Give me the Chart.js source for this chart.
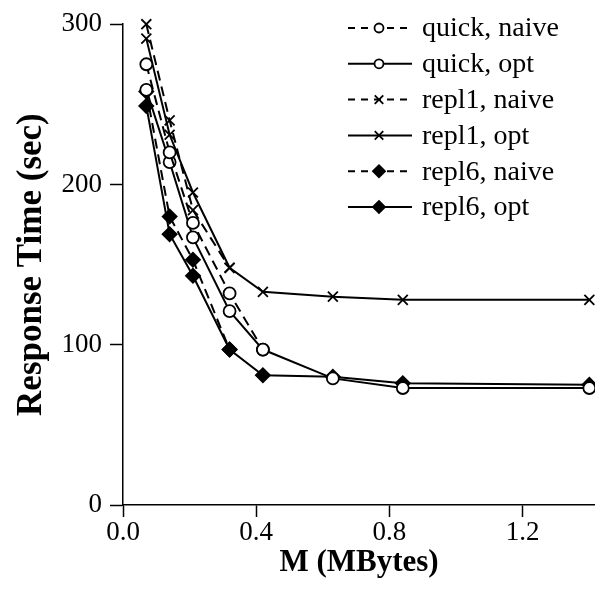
<!DOCTYPE html>
<html>
<head>
<meta charset="utf-8">
<script src="https://cdn.jsdelivr.net/npm/chart.js@4.4.0/dist/chart.umd.min.js"></script>
<style>
  html, body { margin: 0; padding: 0; background: #fff; }
</style>
</head>
<body>
<canvas id="chart" width="595" height="590"></canvas>
<script>
// memory sizes (MBytes) and response times (sec)
const memMB = [0.07, 0.14, 0.21, 0.32, 0.42, 0.63, 0.84, 1.4];
const quickNaive = [275, 220, 176, 132, 97];
const quickOpt = [259, 214, 167, 121, 97, 79, 73, 73];
const repl1Naive = [300, 240, 184, 148];
const repl1Opt = [291, 231, 195, 148, 133, 130, 128, 128];
const repl6Naive = [258, 180, 153, 97];
const repl6Opt = [249, 169, 143, 97, 81, 80, 76, 75];
const seriesNames = ['quick, naive', 'quick, opt', 'repl1, naive', 'repl1, opt', 'repl6, naive', 'repl6, opt'];
const xTicks = [0, 0.4, 0.8, 1.2];
const yTicks = [0, 100, 200, 300];

const FONT = 'Liberation Serif';
Chart.defaults.font.family = FONT;
Chart.defaults.color = '#000';

function points(vals) {
    return vals.map((v, i) => ({ x: memMB[i], y: v }));
}

function makeSet(label, vals, dashed, style) {
    const filled = style === 'rectRot';
    return {
        label: label,
        data: points(vals),
        borderColor: '#000',
        borderWidth: 2,
        borderDash: dashed ? [10, 6] : [],
        pointStyle: style,
        pointRadius: style === 'circle' ? 6 : 7,
        pointBorderWidth: 1.8,
        pointBorderColor: '#000',
        pointBackgroundColor: filled ? '#000' : '#fff',
        tension: 0,
        fill: false,
        clip: false
    };
}

const datasets = [
    makeSet(seriesNames[0], quickNaive, true, 'circle'),
    makeSet(seriesNames[1], quickOpt, false, 'circle'),
    makeSet(seriesNames[2], repl1Naive, true, 'crossRot'),
    makeSet(seriesNames[3], repl1Opt, false, 'crossRot'),
    makeSet(seriesNames[4], repl6Naive, true, 'rectRot'),
    makeSet(seriesNames[5], repl6Opt, false, 'rectRot')
];

// legend drawn as line + marker samples, like the original figure
const lineLegend = {
    id: 'lineLegend',
    afterDatasetsDraw(chart) {
        const ctx = chart.ctx;
        const x0 = 348, x1 = 412, xm = 379, xt = 422;
        ctx.save();
        chart.data.datasets.forEach((ds, i) => {
            const y = 28 + i * 35.8;
            ctx.strokeStyle = '#000';
            ctx.lineWidth = 2;
            ctx.setLineDash(ds.borderDash.length ? [7, 6] : []);
            ctx.beginPath();
            ctx.moveTo(x0, y);
            ctx.lineTo(x1, y);
            ctx.stroke();
            ctx.setLineDash([]);
            ctx.fillStyle = ds.pointBackgroundColor;
            ctx.strokeStyle = '#000';
            ctx.lineWidth = 1.8;
            Chart.helpers.drawPoint(ctx, {
                pointStyle: ds.pointStyle,
                radius: ds.pointStyle === 'circle' ? 4.5 : 6,
                rotation: 0,
                borderWidth: 1.8
            }, xm, y);
            ctx.fillStyle = '#000';
            ctx.font = '28px "' + FONT + '"';
            ctx.textBaseline = 'middle';
            ctx.textAlign = 'left';
            ctx.fillText(ds.label, xt, y + 1);
        });
        ctx.restore();
    }
};

new Chart(document.getElementById('chart').getContext('2d'), {
    type: 'line',
    data: { datasets: datasets },
    plugins: [lineLegend],
    options: {
        responsive: false,
        animation: false,
        layout: { autoPadding: false, padding: { top: 22, right: 0, left: 0, bottom: 0 } },
        plugins: {
            legend: { display: false },
            tooltip: { enabled: false }
        },
        scales: {
            x: {
                type: 'linear',
                min: 0,
                max: 1.417,
                afterBuildTicks: s => { s.ticks = xTicks.map(v => ({ value: v })); },
                afterFit: s => { s.height = 85; s.paddingRight = 0; s.paddingLeft = 0; },
                grid: { drawOnChartArea: false, color: '#000', tickLength: 12, tickWidth: 1.5 },
                border: { color: '#000', width: 1.5 },
                ticks: {
                    font: { size: 27 },
                    padding: 0,
                    maxRotation: 0,
                    callback: v => v.toFixed(1)
                },
                title: {
                    display: true,
                    text: 'M (MBytes)',
                    font: { size: 31, weight: 'bold' },
                    padding: { top: 0, bottom: 8 }
                }
            },
            y: {
                min: 0,
                max: 300,
                afterBuildTicks: s => { s.ticks = yTicks.map(v => ({ value: v })); },
                afterFit: s => { s.width = 123; },
                grid: { drawOnChartArea: false, color: '#000', tickLength: 13, tickWidth: 1.5 },
                border: { color: '#000', width: 1.5 },
                ticks: {
                    font: { size: 27 },
                    padding: 8
                },
                title: {
                    display: true,
                    text: 'Response Time (sec)',
                    font: { size: 35, weight: 'bold' },
                    padding: { top: 11, bottom: 0 }
                }
            }
        }
    }
});
</script>
</body>
</html>
